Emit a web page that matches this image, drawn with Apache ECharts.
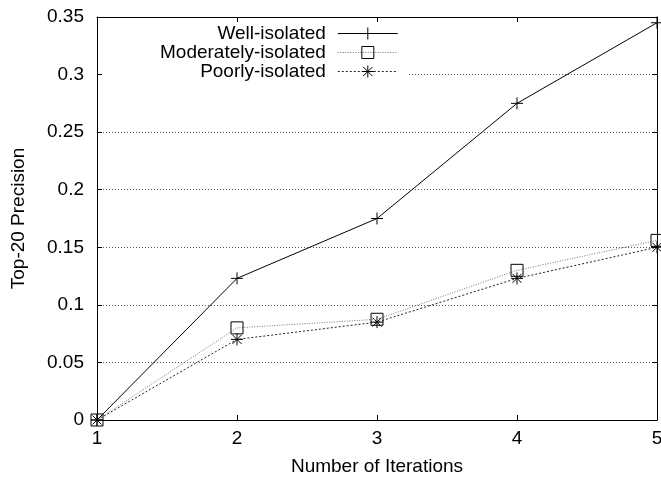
<!DOCTYPE html>
<html>
<head>
<meta charset="utf-8">
<script src="https://cdn.jsdelivr.net/npm/echarts@6/dist/echarts.min.js"></script>
<style>
html,body{margin:0;padding:0;background:#fff;}
#chart{width:661px;height:479px;}
</style>
</head>
<body>
<div id="chart"></div>
<script>
var iterations = [1, 2, 3, 4, 5];
var wellIsolated = [0, 0.123, 0.175, 0.275, 0.345];
var moderatelyIsolated = [0, 0.08, 0.0875, 0.13, 0.156];
var poorlyIsolated = [0, 0.07, 0.085, 0.123, 0.15];
var seriesNames = ['Well-isolated', 'Moderately-isolated', 'Poorly-isolated'];
var yMin = 0, yMax = 0.35, yStep = 0.05;

function pairs(vals) { return iterations.map(function (x, i) { return [x, vals[i]]; }); }

var FONT = '"Liberation Sans", Arial, Helvetica, sans-serif';
var chart = echarts.init(document.getElementById('chart'), null, {renderer: 'canvas'});
var plusPath = 'path://M0,6L12,6M6,0L6,12';
var starPath = 'path://M0,6L12,6M6,0L6,12M1.5,1.5L10.5,10.5M10.5,1.5L1.5,10.5';

var axisBase = {
  axisLine: {show: true, onZero: false, lineStyle: {color: '#000', width: 1}},
  axisTick: {show: true, inside: true, length: 5, lineStyle: {color: '#000', width: 1}}
};

chart.setOption({
  animation: false,
  backgroundColor: '#fff',
  textStyle: {fontFamily: FONT, color: '#000'},
  grid: {left: 97, right: 4, top: 17, bottom: 59, containLabel: false, outerBoundsMode: 'none'},
  graphic: [{
    type: 'rect', left: 103, top: 18, z: 1,
    shape: {width: 305, height: 66},
    style: {fill: '#fff'}
  }],
  legend: {
    orient: 'vertical',
    align: 'right',
    left: 160,
    top: 18,
    padding: [6, 10, 4, 0],
    itemGap: 0,
    itemWidth: 60,
    itemHeight: 15,
    backgroundColor: '#fff',
    data: seriesNames,
    lineStyle: {width: 1},
    itemStyle: {borderWidth: 1},
    textStyle: {fontFamily: FONT, fontSize: 19, color: '#000', padding: [0, 7, 0, 0]}
  },
  xAxis: [
    Object.assign({
      type: 'value', min: iterations[0], max: iterations[iterations.length - 1], interval: 1,
      position: 'bottom',
      name: 'Number of Iterations', nameLocation: 'middle', nameGap: 37,
      nameTextStyle: {fontFamily: FONT, fontSize: 19, color: '#000'},
      axisLabel: {fontFamily: FONT, fontSize: 19, color: '#000', margin: 9},
      splitLine: {show: false}
    }, axisBase),
    Object.assign({
      type: 'value', min: iterations[0], max: iterations[iterations.length - 1], interval: 1,
      position: 'top', z: 6,
      axisLabel: {show: false},
      splitLine: {show: false}
    }, axisBase)
  ],
  yAxis: [
    Object.assign({
      type: 'value', min: yMin, max: yMax, interval: yStep,
      position: 'left',
      name: 'Top-20 Precision', nameLocation: 'middle', nameGap: 69,
      nameTextStyle: {fontFamily: FONT, fontSize: 19, color: '#000'},
      axisLabel: {fontFamily: FONT, fontSize: 19, color: '#000', margin: 13},
      splitLine: {show: true, lineStyle: {color: '#555', width: 1, type: [1, 2]}}
    }, axisBase),
    Object.assign({
      type: 'value', min: yMin, max: yMax, interval: yStep,
      position: 'right', z: 6,
      axisLabel: {show: false},
      splitLine: {show: false}
    }, axisBase)
  ],
  series: [
    {
      name: seriesNames[0], type: 'line', data: pairs(wellIsolated),
      symbol: plusPath, symbolSize: 12, showSymbol: true,
      lineStyle: {color: '#000', width: 1, type: 'solid'},
      itemStyle: {color: 'transparent', borderColor: '#000', borderWidth: 1},
      z: 5
    },
    {
      name: seriesNames[1], type: 'line', data: pairs(moderatelyIsolated),
      symbol: 'rect', symbolSize: 12, showSymbol: true,
      lineStyle: {color: '#777', width: 1, type: [1, 1.5]},
      itemStyle: {color: 'transparent', borderColor: '#000', borderWidth: 1},
      z: 4
    },
    {
      name: seriesNames[2], type: 'line', data: pairs(poorlyIsolated),
      symbol: starPath, symbolSize: 12, showSymbol: true,
      lineStyle: {color: '#222', width: 1, type: [2, 2]},
      itemStyle: {color: 'transparent', borderColor: '#000', borderWidth: 1},
      z: 3
    }
  ]
});
</script>
</body>
</html>
